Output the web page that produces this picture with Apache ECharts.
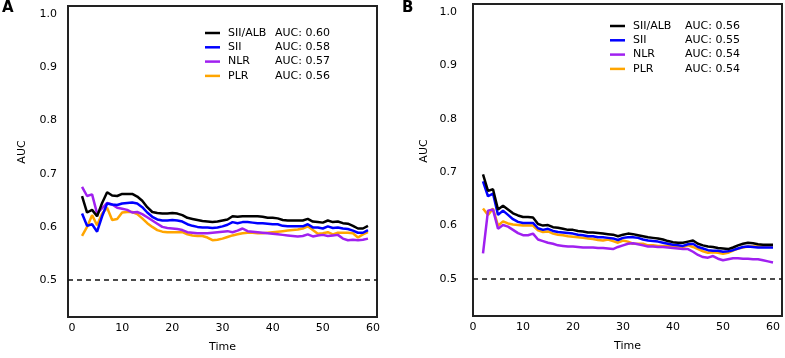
<!DOCTYPE html>
<html>
<head>
<meta charset="utf-8">
<script src="https://cdn.jsdelivr.net/npm/echarts@6/dist/echarts.min.js"></script>
<style>
    html, body { margin: 0; padding: 0; background: #fff; }
    #chart { width: 785px; height: 358px; }
</style>
</head>
<body>
<div id="chart"></div>
<script>
    // time points
    const timeA = [2, 3, 4, 5, 6, 7, 8, 9, 10, 11, 12, 13, 14, 15, 16, 17, 18, 19, 20, 21, 22, 23, 24, 25, 26, 27, 28, 29, 30,
        31, 32, 33, 34, 35, 36, 37, 38, 39, 40, 41, 42, 43, 44, 45, 46, 47, 48, 49, 50, 51, 52, 53, 54, 55, 56, 57, 58, 59]
    const timeB = [2, 3, 4, 5, 6, 7, 8, 9, 10, 11, 12, 13, 14, 15, 16, 17, 18, 19, 20, 21, 22, 23, 24, 25, 26, 27, 28, 29, 30,
        31, 32, 33, 34, 35, 36, 37, 38, 39, 40, 41, 42, 43, 44, 45, 46, 47, 48, 49, 50, 51, 52, 53, 54, 55, 56, 57, 58, 59, 60]

    const xTicks = [0, 10, 20, 30, 40, 50, 60]
    const yTicks = [0.5, 0.6, 0.7, 0.8, 0.9, 1.0]

    const names = ['SII/ALB', 'SII', 'NLR', 'PLR']
    const aucA = ['0.60', '0.58', '0.57', '0.56']
    const aucB = ['0.56', '0.55', '0.54', '0.54']

    // panel A
    const siiAlbA = [0.658, 0.627, 0.632, 0.620, 0.645, 0.665, 0.659, 0.658, 0.662, 0.662, 0.662, 0.657, 0.649, 0.637, 0.628,
        0.626, 0.625, 0.625, 0.626, 0.625, 0.622, 0.617, 0.615, 0.613, 0.611, 0.610, 0.609, 0.610, 0.612, 0.614, 0.620, 0.619,
        0.620, 0.620, 0.620, 0.620, 0.619, 0.617, 0.617, 0.616, 0.613, 0.612, 0.612, 0.612, 0.612, 0.615, 0.610, 0.609, 0.608,
        0.612, 0.609, 0.610, 0.607, 0.606, 0.602, 0.597, 0.597, 0.602]
    const siiA = [0.625, 0.602, 0.605, 0.591, 0.620, 0.644, 0.642, 0.641, 0.644, 0.645, 0.646, 0.644, 0.637, 0.627, 0.619,
        0.614, 0.612, 0.612, 0.613, 0.612, 0.610, 0.605, 0.602, 0.600, 0.599, 0.599, 0.598, 0.599, 0.601, 0.604, 0.609, 0.607,
        0.609, 0.609, 0.608, 0.607, 0.607, 0.606, 0.605, 0.605, 0.602, 0.601, 0.601, 0.601, 0.601, 0.605, 0.599, 0.599, 0.597,
        0.601, 0.598, 0.599, 0.597, 0.596, 0.593, 0.589, 0.589, 0.594]
    const nlrA = [0.675, 0.658, 0.661, 0.625, 0.635, 0.645, 0.642, 0.636, 0.634, 0.632, 0.627, 0.628, 0.624, 0.618, 0.612,
        0.606, 0.600, 0.598, 0.597, 0.596, 0.594, 0.590, 0.589, 0.588, 0.588, 0.588, 0.589, 0.590, 0.591, 0.592, 0.590, 0.593,
        0.597, 0.592, 0.591, 0.590, 0.589, 0.588, 0.587, 0.586, 0.585, 0.584, 0.583, 0.582, 0.583, 0.586, 0.582, 0.584, 0.585,
        0.583, 0.584, 0.585, 0.578, 0.575, 0.576, 0.575, 0.576, 0.578]
    const plrA = [0.583, 0.600, 0.622, 0.603, 0.625, 0.636, 0.613, 0.615, 0.627, 0.628, 0.628, 0.624, 0.616, 0.607, 0.600,
        0.594, 0.591, 0.590, 0.590, 0.590, 0.590, 0.586, 0.584, 0.583, 0.583, 0.580, 0.575, 0.576, 0.578, 0.581, 0.584, 0.586,
        0.588, 0.589, 0.589, 0.588, 0.588, 0.589, 0.590, 0.591, 0.592, 0.593, 0.594, 0.595, 0.597, 0.601, 0.594, 0.587, 0.588,
        0.590, 0.586, 0.589, 0.589, 0.589, 0.588, 0.580, 0.586, 0.590]

    // panel B
    const siiAlbB = [0.696, 0.665, 0.668, 0.630, 0.637, 0.630, 0.623, 0.619, 0.616, 0.616, 0.615, 0.603, 0.600, 0.601, 0.597,
        0.596, 0.594, 0.592, 0.592, 0.590, 0.589, 0.587, 0.587, 0.586, 0.585, 0.584, 0.583, 0.580, 0.583, 0.585, 0.584, 0.582,
        0.580, 0.578, 0.577, 0.576, 0.574, 0.571, 0.569, 0.568, 0.568, 0.570, 0.572, 0.566, 0.563, 0.561, 0.560, 0.558, 0.557,
        0.556, 0.559, 0.563, 0.566, 0.568, 0.567, 0.565, 0.564, 0.564, 0.564]
    const siiB = [0.683, 0.655, 0.660, 0.620, 0.628, 0.620, 0.612, 0.607, 0.605, 0.605, 0.605, 0.595, 0.592, 0.594, 0.590,
        0.588, 0.587, 0.586, 0.585, 0.583, 0.582, 0.580, 0.580, 0.578, 0.578, 0.577, 0.576, 0.573, 0.577, 0.578, 0.578, 0.577,
        0.574, 0.572, 0.571, 0.570, 0.568, 0.566, 0.564, 0.563, 0.562, 0.565, 0.566, 0.560, 0.557, 0.554, 0.553, 0.553, 0.551,
        0.552, 0.554, 0.557, 0.560, 0.561, 0.560, 0.559, 0.559, 0.559, 0.559]
    const nlrB = [0.548, 0.628, 0.630, 0.594, 0.601, 0.598, 0.592, 0.586, 0.582, 0.582, 0.585, 0.574, 0.571, 0.568, 0.566,
        0.563, 0.562, 0.561, 0.561, 0.560, 0.559, 0.559, 0.559, 0.558, 0.558, 0.557, 0.556, 0.560, 0.563, 0.566, 0.567, 0.565,
        0.563, 0.561, 0.561, 0.560, 0.560, 0.559, 0.558, 0.557, 0.556, 0.556, 0.551, 0.545, 0.541, 0.540, 0.543, 0.538, 0.535,
        0.537, 0.539, 0.539, 0.538, 0.538, 0.537, 0.537, 0.535, 0.533, 0.531]
    const plrB = [0.632, 0.620, 0.632, 0.600, 0.608, 0.604, 0.602, 0.601, 0.600, 0.600, 0.600, 0.591, 0.588, 0.589, 0.585,
        0.583, 0.582, 0.580, 0.579, 0.578, 0.577, 0.576, 0.575, 0.573, 0.572, 0.574, 0.571, 0.568, 0.572, 0.570, 0.566, 0.566,
        0.566, 0.563, 0.563, 0.562, 0.562, 0.562, 0.561, 0.561, 0.560, 0.563, 0.560, 0.556, 0.552, 0.549, 0.550, 0.549, 0.547,
        0.549, 0.553, 0.557, 0.559, 0.561, 0.561, 0.561, 0.561, 0.561, 0.561]

    const colors = ['#000000', '#0000ff', '#a020f0', '#ffa500']
    const font = 'DejaVu Sans'

    const chart = echarts.init(document.getElementById('chart'), null, {renderer: 'canvas'})

    function pairs (xs, ys) {
        return xs.map((x, i) => [x, ys[i]])
    }

    function makeX (gridIndex, min, max) {
        return {
            type: 'value',
            gridIndex: gridIndex,
            min: min,
            max: max,
            name: 'Time',
            nameLocation: 'middle',
            nameGap: 25,
            nameTextStyle: {color: '#000', fontFamily: font, fontSize: 11},
            axisLine: {show: false},
            axisTick: {show: false},
            splitLine: {show: false},
            axisLabel: {
                customValues: xTicks,
                margin: 6,
                color: '#000',
                fontFamily: font,
                fontSize: 11
            }
        }
    }

    function makeY (gridIndex, margin) {
        return {
            type: 'value',
            gridIndex: gridIndex,
            min: 0.4307,
            max: 1.015,
            axisLine: {show: false},
            axisTick: {show: false},
            splitLine: {show: false},
            axisLabel: {
                customValues: yTicks,
                margin: margin,
                color: '#000',
                fontFamily: font,
                fontSize: 11,
                formatter: v => v.toFixed(1)
            }
        }
    }

    function makeLegend (left, top, aucs, nameWidth) {
        return {
            orient: 'vertical',
            left: left,
            top: top,
            icon: 'rect',
            itemWidth: 15,
            itemHeight: 2.5,
            itemGap: 0.3,
            data: names,
            selectedMode: false,
            textStyle: {
                color: '#000',
                fontFamily: font,
                fontSize: 11,
                lineHeight: 14,
                padding: [0, 0, 0, 3],
                rich: {
                    n: {width: nameWidth, fontFamily: font, fontSize: 11, color: '#000'},
                    a: {fontFamily: font, fontSize: 11, color: '#000'}
                }
            },
            formatter: name => '{n|' + name + '}{a|AUC: ' + aucs[names.indexOf(name)] + '}'
        }
    }

    function makeSeries (axisIndex, xs, lists) {
        return lists.map((ys, i) => {
            const s = {
                name: names[i],
                type: 'line',
                xAxisIndex: axisIndex,
                yAxisIndex: axisIndex,
                data: pairs(xs, ys),
                symbol: 'none',
                itemStyle: {color: colors[i]},
                lineStyle: {color: colors[i], width: 2.5},
                z: 10 - i
            }
            if (i === 0) {
                s.markLine = {
                    silent: true,
                    symbol: ['none', 'none'],
                    label: {show: false},
                    lineStyle: {type: [5, 4], color: '#111', width: 1.5},
                    data: [{yAxis: 0.5}]
                }
            }
            return s
        })
    }

    chart.setOption({
        animation: false,
        backgroundColor: '#fff',
        grid: [
            {left: 68, top: 6, width: 309, height: 312, show: true, borderColor: '#222', borderWidth: 2},
            {left: 473, top: 4, width: 309, height: 312, show: true, borderColor: '#222', borderWidth: 2}
        ],
        xAxis: [makeX(0, -0.8, 60.8), makeX(1, 0, 61.8)],
        yAxis: [makeY(0, 11), makeY(1, 16)],
        legend: [
            makeLegend(200, 21, aucA, 47),
            makeLegend(605, 14, aucB, 52)
        ],
        graphic: [
            {type: 'text', left: 2, top: 1, style: {text: 'A', font: 'bold 15px "DejaVu Sans"', fill: '#000'}},
            {type: 'text', left: 402, top: 1, style: {text: 'B', font: 'bold 15px "DejaVu Sans"', fill: '#000'}},
            {type: 'text', x: 22, y: 152, rotation: Math.PI / 2,
                style: {text: 'AUC', font: '11px "DejaVu Sans"', fill: '#000', align: 'center', verticalAlign: 'middle'}},
            {type: 'text', x: 424, y: 151, rotation: Math.PI / 2,
                style: {text: 'AUC', font: '11px "DejaVu Sans"', fill: '#000', align: 'center', verticalAlign: 'middle'}}
        ],
        series: makeSeries(0, timeA, [siiAlbA, siiA, nlrA, plrA])
            .concat(makeSeries(1, timeB, [siiAlbB, siiB, nlrB, plrB]))
    })
</script>
</body>
</html>
